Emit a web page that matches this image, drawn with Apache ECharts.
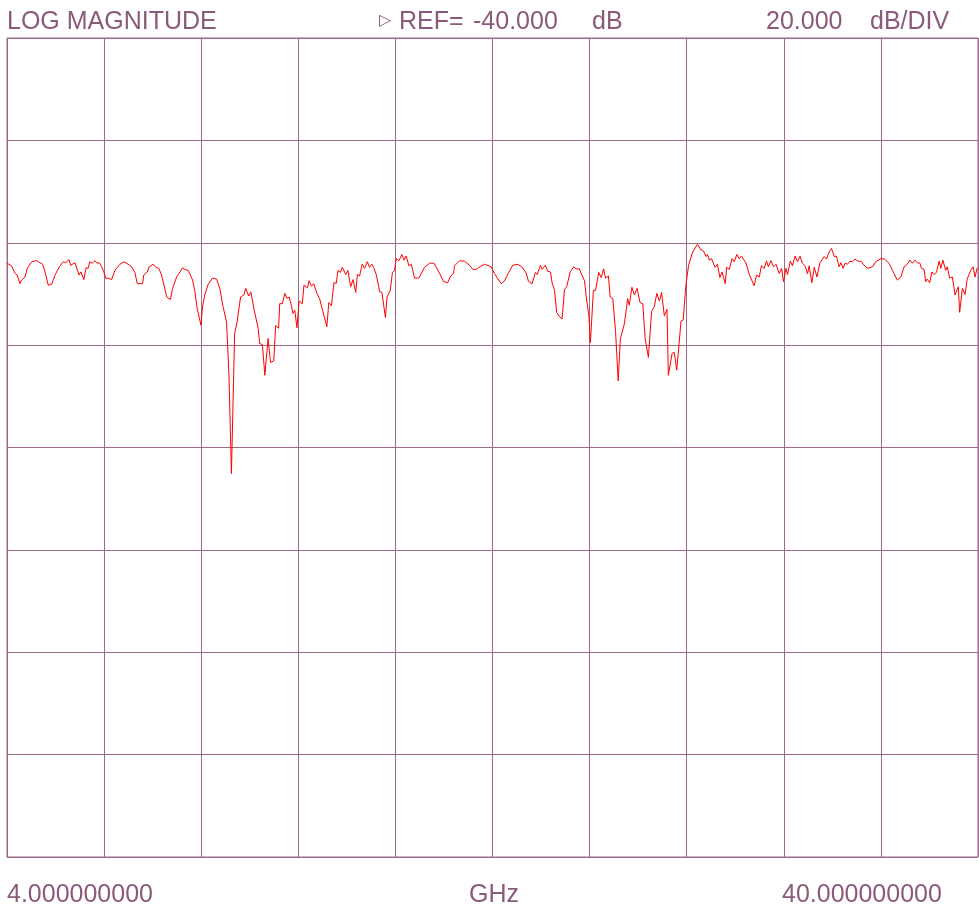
<!DOCTYPE html>
<html>
<head>
<meta charset="utf-8">
<title>LOG MAGNITUDE</title>
<script src="https://cdn.jsdelivr.net/npm/echarts@6/dist/echarts.min.js"></script>
<style>
	html, body { margin: 0; padding: 0; background: #fff; }
	#chart { width: 979px; height: 909px; }
</style>
</head>
<body>
<div id="chart"></div>
<script>
// sweep 4 - 40 GHz, REF -40 dB, 20 dB/div
var freqs = [
	4.00, 4.17, 4.23, 4.30, 4.38, 4.48, 4.54, 4.67, 4.75, 4.92, 5.10, 5.22, 5.32, 5.41, 5.53, 5.66, 5.78, 5.94,
	6.09, 6.17, 6.30, 6.36, 6.52, 6.58, 6.67, 6.74, 6.85, 6.93, 7.01, 7.07, 7.16, 7.26, 7.34, 7.42, 7.51, 7.59,
	7.67, 7.75, 7.88, 8.00, 8.19, 8.34, 8.49, 8.62, 8.74, 8.83, 9.03, 9.07, 9.20, 9.27, 9.42, 9.52, 9.63, 9.73,
	9.82, 9.92, 10.06, 10.14, 10.29, 10.51, 10.59, 10.72, 10.88, 10.96, 11.05, 11.19, 11.25, 11.33, 11.46, 11.62,
	11.77, 11.89, 12.01, 12.14, 12.23, 12.32, 12.44, 12.53, 12.66, 12.69, 12.78, 12.85, 12.96, 13.04, 13.16, 13.22,
	13.31, 13.37, 13.47, 13.56, 13.68, 13.77, 13.89, 13.96, 14.07, 14.11, 14.21, 14.30, 14.38, 14.46, 14.54, 14.60,
	14.67, 14.75, 14.83, 14.95, 15.01, 15.14, 15.20, 15.29, 15.37, 15.49, 15.59, 15.66, 15.72, 15.86, 15.93, 16.03,
	16.12, 16.21, 16.27, 16.36, 16.43, 16.56, 16.64, 16.74, 16.83, 16.93, 16.99, 17.07, 17.17, 17.26, 17.36, 17.44,
	17.53, 17.60, 17.69, 17.82, 17.90, 18.03, 18.09, 18.21, 18.29, 18.37, 18.43, 18.53, 18.64, 18.72, 18.80, 18.90,
	18.99, 19.11, 19.27, 19.48, 19.67, 19.83, 20.01, 20.19, 20.34, 20.43, 20.56, 20.59, 20.78, 20.96, 21.15, 21.27,
	21.40, 21.52, 21.70, 21.86, 21.95, 22.07, 22.32, 22.44, 22.60, 22.75, 22.82, 22.94, 23.10, 23.25, 23.33, 23.47,
	23.59, 23.66, 23.78, 23.84, 23.96, 24.05, 24.15, 24.21, 24.30, 24.38, 24.46, 24.58, 24.67, 24.75, 24.88, 25.01,
	25.10, 25.22, 25.31, 25.41, 25.49, 25.57, 25.63, 25.74, 25.82, 25.94, 26.03, 26.12, 26.19, 26.30, 26.36, 26.46,
	26.56, 26.66, 26.74, 26.89, 27.01, 27.07, 27.17, 27.26, 27.36, 27.47, 27.57, 27.66, 27.78, 27.90, 28.00, 28.09,
	28.19, 28.27, 28.37, 28.47, 28.52, 28.66, 28.74, 28.83, 28.90, 28.99, 29.07, 29.17, 29.27, 29.42, 29.60, 29.73,
	29.82, 29.92, 29.97, 30.04, 30.12, 30.25, 30.34, 30.43, 30.51, 30.63, 30.68, 30.78, 30.88, 30.96, 31.06, 31.15,
	31.23, 31.40, 31.52, 31.58, 31.70, 31.79, 31.89, 31.97, 32.07, 32.16, 32.23, 32.32, 32.42, 32.51, 32.63, 32.72,
	32.79, 32.88, 32.94, 33.04, 33.12, 33.22, 33.31, 33.40, 33.49, 33.59, 33.68, 33.74, 33.84, 33.93, 34.03, 34.14,
	34.23, 34.30, 34.38, 34.48, 34.57, 34.67, 34.75, 34.85, 34.92, 35.00, 35.07, 35.16, 35.25, 35.34, 35.44, 35.53,
	35.66, 35.74, 35.90, 36.09, 36.21, 36.40, 36.54, 36.70, 36.83, 36.95, 37.01, 37.14, 37.26, 37.38, 37.47, 37.57,
	37.66, 37.75, 37.85, 37.90, 38.00, 38.06, 38.12, 38.21, 38.29, 38.37, 38.46, 38.56, 38.62, 38.70, 38.80, 38.86,
	38.95, 39.05, 39.15, 39.20, 39.27, 39.32, 39.42, 39.52, 39.60, 39.67, 39.73, 39.82, 39.89, 39.97
];
var magnitudes = [
	-4.0, -4.5, -4.7, -6.0, -6.3, -8.0, -7.3, -6.7, -5.0, -3.7, -3.5, -3.9, -4.2, -5.7, -8.3, -8.1, -6.3, -4.7,
	-3.7, -3.9, -3.3, -4.4, -3.9, -4.0, -6.3, -5.7, -7.2, -4.9, -5.0, -3.7, -4.0, -3.5, -4.0, -3.9, -4.7, -5.7,
	-7.0, -6.9, -7.2, -5.4, -4.2, -3.7, -4.2, -4.7, -5.8, -8.0, -8.0, -6.3, -5.7, -4.7, -4.2, -4.8, -5.0, -6.3,
	-8.3, -10.6, -11.1, -8.9, -6.7, -4.9, -5.2, -5.4, -7.3, -9.3, -12.8, -16.1, -12.5, -10.2, -8.1, -6.9,
	-7.1, -8.9, -12.5, -15.5, -25.9, -45.1, -17.7, -15.5, -10.6, -10.4, -10.2, -8.9, -10.4, -9.6, -13.0, -13.0,
	-16.7, -19.7, -19.9, -25.9, -18.7, -23.4, -23.1, -16.2, -16.7, -11.9, -11.9, -9.9, -10.9, -10.6, -12.2, -13.8,
	-13.2, -16.6, -11.4, -11.9, -8.3, -8.8, -7.4, -8.5, -8.0, -9.9, -10.9, -12.4, -12.7, -16.4, -11.7, -12.3,
	-7.8, -7.9, -5.4, -5.8, -4.8, -6.2, -5.4, -8.6, -7.2, -9.7, -6.2, -6.5, -4.2, -5.0, -3.7, -4.8,
	-4.2, -4.9, -6.2, -9.6, -9.7, -14.6, -10.6, -9.3, -5.8, -5.4, -3.1, -3.5, -2.3, -3.4, -2.6, -4.5,
	-4.2, -6.9, -6.9, -4.8, -4.0, -4.0, -5.7, -7.6, -7.8, -6.7, -5.9, -4.5, -3.5, -3.6, -4.4, -5.2,
	-5.2, -4.7, -4.2, -4.5, -4.7, -6.0, -8.0, -7.5, -5.8, -4.4, -4.5, -4.2, -4.8, -5.9, -7.5, -8.0,
	-5.8, -6.2, -4.4, -5.2, -4.4, -5.6, -5.7, -7.8, -9.3, -13.6, -14.3, -14.9, -9.1, -8.6, -5.7, -4.7,
	-5.1, -5.1, -6.3, -7.4, -11.2, -14.1, -19.5, -9.3, -9.3, -5.8, -6.8, -5.1, -6.9, -6.5, -10.6, -10.9,
	-17.1, -27.0, -18.8, -15.8, -10.9, -12.2, -8.7, -10.2, -8.9, -11.7, -11.9, -18.7, -22.4, -13.4, -12.5, -9.9,
	-11.4, -9.7, -14.3, -13.0, -25.9, -21.6, -21.4, -24.9, -25.0, -15.3, -15.1, -8.3, -4.4, -1.8, -0.3, -1.4,
	-1.6, -2.7, -2.3, -3.4, -3.1, -4.8, -4.2, -6.8, -5.7, -8.0, -4.8, -5.2, -3.1, -3.7, -2.3, -3.1,
	-2.6, -4.0, -6.2, -6.1, -8.4, -6.3, -6.7, -4.5, -5.0, -3.6, -4.7, -3.5, -4.7, -4.2, -6.0, -5.0,
	-7.6, -5.0, -6.2, -3.6, -4.5, -2.6, -3.7, -2.6, -4.0, -4.5, -6.1, -4.5, -7.8, -4.8, -6.7, -3.9,
	-3.2, -2.7, -3.2, -1.8, -1.1, -2.7, -2.6, -4.7, -3.9, -5.0, -4.0, -4.2, -3.6, -3.7, -3.2, -3.6,
	-3.6, -4.2, -5.0, -4.7, -3.7, -3.1, -3.2, -4.0, -5.4, -6.7, -7.3, -6.7, -4.7, -4.2, -3.4, -4.0,
	-3.4, -3.9, -4.0, -5.0, -5.2, -7.6, -7.1, -7.8, -5.7, -6.2, -5.8, -3.6, -5.0, -3.4, -5.4, -4.7,
	-6.9, -6.7, -10.2, -9.9, -8.6, -13.6, -8.9, -10.1, -7.1, -7.3, -5.4, -4.7, -6.7, -4.9
];

var startFreq = 4, stopFreq = 40;
var refLevel = -40, scaleDiv = 20;
var topLabels = ['LOG MAGNITUDE', 'REF=', '-40.000', 'dB', '20.000', 'dB/DIV'];
var bottomLabels = ['4.000000000', 'GHz', '40.000000000'];

var inkColor = '#8a5a7a';
var gridColor = '#9a6a88';
var font = '25px "Liberation Sans", Arial, sans-serif';

function txt(str, x, y) {
	return { type: 'text', left: x, top: y, style: { text: str, font: font, fill: inkColor } };
}

function initChart() {
	var chart = echarts.init(document.getElementById('chart'));
	var traceData = [];
	freqs.forEach(function (f, i) {
		traceData.push([f, magnitudes[i]]);
	});

	var option = {
		animation: false,
		backgroundColor: '#fff',
		grid: {
			left: 7,
			right: 1,
			top: 38,
			bottom: 52,
			show: true,
			borderColor: gridColor,
			borderWidth: 1
		},
		xAxis: {
			type: 'value',
			min: startFreq,
			max: stopFreq,
			interval: (stopFreq - startFreq) / 10,
			axisLine: { show: false },
			axisTick: { show: false },
			axisLabel: { show: false },
			splitLine: { show: true, lineStyle: { color: gridColor, width: 1 } }
		},
		yAxis: {
			type: 'value',
			min: refLevel - 4 * scaleDiv,
			max: refLevel + 4 * scaleDiv,
			interval: scaleDiv,
			axisLine: { show: false },
			axisTick: { show: false },
			axisLabel: { show: false },
			splitLine: { show: true, lineStyle: { color: gridColor, width: 1 } }
		},
		graphic: [
			txt(topLabels[0], 7, 10),
			{ type: 'text', left: 379, top: 13, style: { text: '▷', font: '16px "DejaVu Sans", sans-serif', fill: inkColor } },
			txt(topLabels[1], 399, 10),
			txt(topLabels[2], 473, 10),
			txt(topLabels[3], 592, 10),
			txt(topLabels[4], 766, 10),
			txt(topLabels[5], 870, 10),
			txt(bottomLabels[0], 7, 883),
			txt(bottomLabels[1], 469, 883),
			txt(bottomLabels[2], 782, 883)
		],
		series: [{
			type: 'line',
			data: traceData,
			showSymbol: false,
			symbol: 'none',
			lineStyle: { color: '#ff0000', width: 1 },
			z: 5
		}]
	};
	chart.setOption(option, true);
}

initChart();
</script>
</body>
</html>
